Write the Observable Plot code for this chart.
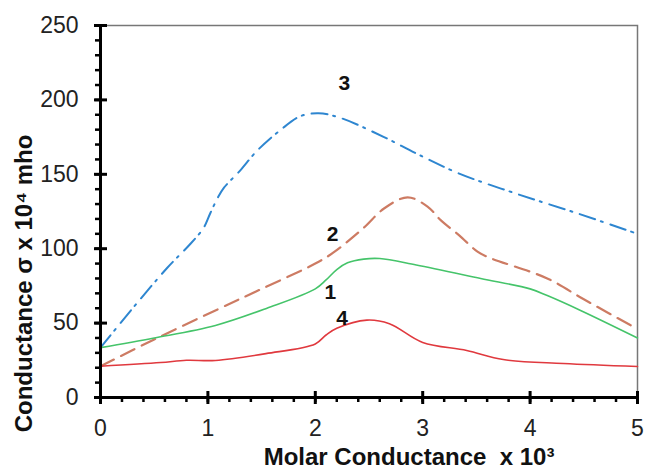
<!DOCTYPE html>
<html>
<head>
<meta charset="utf-8">
<script src="https://cdn.jsdelivr.net/npm/d3@7"></script>
<script src="https://cdn.jsdelivr.net/npm/@observablehq/plot@0.6"></script>
<style>
  html, body { margin: 0; padding: 0; background: #fff; }
  svg { font-family: "Liberation Sans", Arial, sans-serif; }
</style>
</head>
<body>
<div id="chart"></div>
<script>
// Series 1 (green, solid)
const s1x = [0, 0.5, 1.07, 1.55, 2.0, 2.1, 2.2, 2.3, 2.45, 2.6, 2.94, 3.54, 4.0, 4.16, 4.47, 5.0];
const s1y = [33.5, 40, 48.4, 60, 73, 79, 86, 90.5, 93, 93.4, 89, 80, 73, 68.5, 58.5, 40];
// Series 2 (brown, dashed)
const s2x = [0, 0.5, 1.07, 1.5, 2.0, 2.17, 2.45, 2.64, 2.86, 3.05, 3.17, 3.34, 3.51, 3.62, 4.16, 4.5, 5.0];
const s2y = [21, 39, 58.5, 73, 90, 97.5, 114, 127, 134.5, 128, 119, 109, 98, 94, 80, 66, 46];
// Series 3 (blue, dash-dot)
const s3x = [0, 0.3, 0.62, 0.84, 0.96, 1.02, 1.09, 1.15, 1.3, 1.46, 1.68, 1.86, 2.03, 2.23, 2.64, 2.94, 3.34, 3.87, 4.43, 5.0];
const s3y = [33.5, 60, 87, 103.5, 114, 123.5, 134, 141, 152.5, 166, 180, 189, 191, 188, 175, 164, 150.5, 137, 124, 110];
// Series 4 (red, solid)
const s4x = [0, 0.56, 0.8, 1.07, 1.54, 2.0, 2.1, 2.2, 2.48, 2.69, 3.0, 3.41, 3.75, 4.31, 5.0];
const s4y = [21, 23.5, 25, 24.9, 29.5, 36, 42, 46.5, 52, 49.6, 37, 31.6, 25.5, 22.8, 20.8];

// Curve labels
const labelText = ["3", "2", "1", "4"];
const labelX = [2.27, 2.16, 2.14, 2.25];
const labelY = [211, 110, 71, 53];

// Axis ticks
const xMajor = [0, 1, 2, 3, 4, 5];
const xMinor = d3.range(0, 26).map(i => i / 5);
const yMajor = [0, 50, 100, 150, 200, 250];
const yMinor = d3.range(0, 26).map(i => i * 10);

const xTitle = "Molar Conductance \u00A0x 10\u00B3";
const yTitle = "Conductance \u03C3 x 10\u2074 mho";

const toRows = (xs, ys) => xs.map((x, i) => ({x, y: ys[i]}));

const chart = Plot.plot({
  width: 646,
  height: 470,
  marginLeft: 100,
  marginRight: 9,
  marginTop: 25,
  marginBottom: 73,
  style: {fontFamily: "Liberation Sans, Arial, sans-serif", background: "#fff"},
  x: {domain: [0, 5]},
  y: {domain: [0, 250]},
  marks: [
    Plot.frame({stroke: "#777", strokeWidth: 1.5}),
    Plot.line(toRows(s3x, s3y), {x: "x", y: "y", curve: "catmull-rom", stroke: "#2E86D0", strokeWidth: 2, strokeDasharray: "16,6,2,8"}),
    Plot.line(toRows(s2x, s2y), {x: "x", y: "y", curve: "catmull-rom", stroke: "#CD7B63", strokeWidth: 2.2, strokeDasharray: "15,8"}),
    Plot.line(toRows(s1x, s1y), {x: "x", y: "y", curve: "catmull-rom", stroke: "#45C46A", strokeWidth: 1.6}),
    Plot.line(toRows(s4x, s4y), {x: "x", y: "y", curve: "catmull-rom", stroke: "#E0393E", strokeWidth: 1.6}),
    Plot.text(labelText.map((t, i) => ({t, x: labelX[i], y: labelY[i]})), {x: "x", y: "y", text: "t", fontSize: 21, fontWeight: "bold", fill: "#111"}),
    // minor ticks (outside)
    Plot.axisY({ticks: yMinor, tickSize: 5, strokeWidth: 2.5, fill: "none", stroke: "#000"}),
    Plot.axisX({ticks: xMinor, tickSize: 5, strokeWidth: 2.5, fill: "none", stroke: "#000"}),
    // major ticks (crossing)
    Plot.axisY({ticks: yMajor, tickSize: 13, dx: 7, strokeWidth: 3, fill: "none", stroke: "#000"}),
    Plot.axisX({ticks: xMajor, tickSize: 13, dy: -6, strokeWidth: 3, fill: "none", stroke: "#000"}),
    // tick labels
    Plot.axisY({ticks: yMajor, tickSize: 0, tickPadding: 22, fontSize: 23, label: null, fill: "#222", tickFormat: d3.format("d")}),
    Plot.axisX({ticks: xMajor, tickSize: 0, tickPadding: 22, fontSize: 23, label: null, fill: "#222", tickFormat: d3.format("d")}),
    // axis lines
    Plot.ruleX([0], {stroke: "#000", strokeWidth: 3}),
    Plot.ruleY([0], {stroke: "#000", strokeWidth: 3}),
    // axis titles
    Plot.text([xTitle], {frameAnchor: "bottom", textAnchor: "middle", dx: 40, dy: 60, lineAnchor: "middle", fontSize: 24, fontWeight: "bold", fill: "#111"}),
    Plot.text([yTitle], {frameAnchor: "left", textAnchor: "middle", dx: -76, dy: 72, rotate: -90, lineAnchor: "middle", fontSize: 24, fontWeight: "bold", fill: "#111"})
  ]
});
document.getElementById("chart").appendChild(chart);
</script>
</body>
</html>
